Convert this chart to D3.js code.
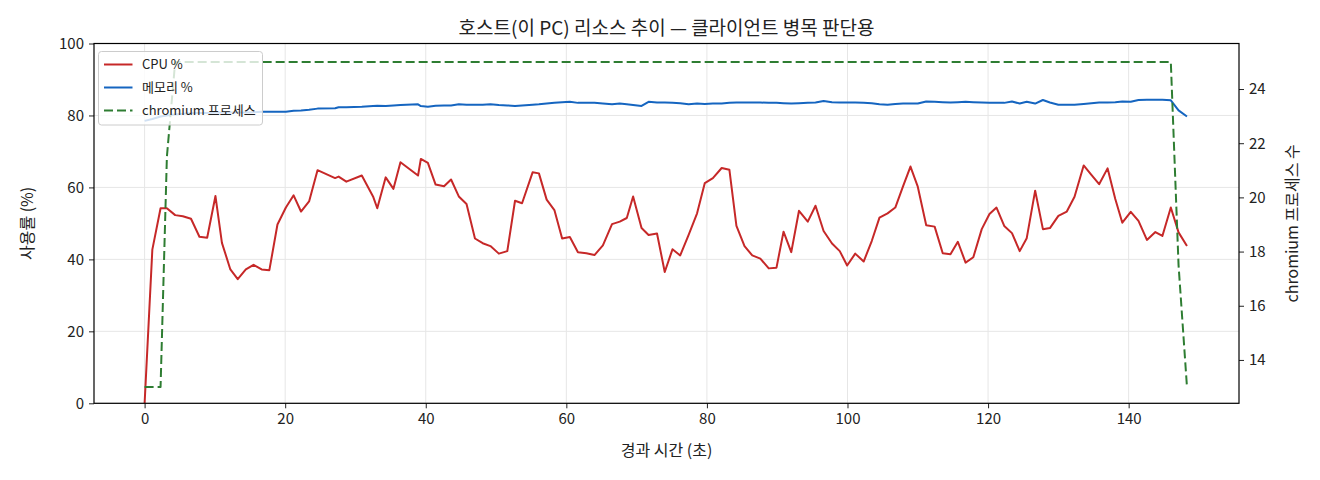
<!DOCTYPE html>
<html>
<head>
<meta charset="utf-8">
<script src="https://cdn.jsdelivr.net/npm/d3@7"></script>
<style>
  body { margin: 0; background: #fff; }
  svg text { font-family: "Noto Sans CJK KR", "Noto Sans", sans-serif; fill: #222; }
</style>
</head>
<body>
<div id="chart"></div>
<script>
// elapsed seconds for each sample
const times = [
  0, 1.1, 2.27, 3.17, 4.35, 5.44, 6.6, 7.8, 8.9, 10.08,
  11.0, 12.2, 13.25, 14.4, 15.5, 16.65, 17.75, 18.9, 20.1, 21.2,
  22.25, 23.4, 24.6, 27.1, 27.6, 28.7, 30.9, 32.5, 33.1, 34.3,
  35.4, 36.4, 38.9, 39.3, 40.3, 41.4, 42.6, 43.6, 44.7, 45.8,
  47.0, 48.1, 49.2, 50.4, 51.6, 52.7, 53.7, 55.2, 56.1, 57.2,
  58.3, 59.4, 60.5, 61.65, 62.85, 64.0, 65.2, 66.5, 67.6, 68.6,
  69.5, 70.7, 71.7, 72.9, 74.0, 75.1, 76.2, 77.4, 78.6, 79.7,
  80.85, 82.1, 83.2, 84.2, 85.35, 86.45, 87.6, 88.8, 89.9, 90.9,
  92.0, 93.1, 94.35, 95.45, 96.6, 97.8, 98.9, 99.95, 101.1, 102.3,
  103.45, 104.55, 105.7, 106.8, 107.9, 108.96, 110.0, 111.2, 112.4, 113.55,
  114.65, 115.7, 116.8, 117.9, 119.1, 120.2, 121.2, 122.3, 123.4, 124.5,
  125.5, 126.7, 127.8, 128.8, 130.0, 131.2, 132.3, 133.6, 134.7, 135.8,
  137.0, 138.1, 139.1, 140.3, 141.4, 142.6, 143.8, 144.8, 146.0, 147.1,
  148.3
]

const cpu = [
  0, 42.7, 54.2, 54.2, 52.3, 52.0, 51.3, 46.3, 46.0, 57.6,
  44.6, 37.2, 34.5, 37.2, 38.5, 37.2, 37.0, 49.7, 54.4, 57.8,
  53.3, 56.1, 64.8, 62.6, 63.0, 61.6, 63.3, 57.5, 54.2, 62.8,
  59.6, 67.0, 63.3, 67.9, 66.8, 60.8, 60.3, 62.2, 57.5, 55.4,
  45.8, 44.5, 43.7, 41.6, 42.3, 56.3, 55.6, 64.2, 63.9, 56.6,
  53.7, 45.8, 46.2, 42.0, 41.7, 41.2, 43.9, 49.8, 50.5, 51.5,
  57.5, 48.7, 46.8, 47.2, 36.5, 42.8, 41.1, 46.8, 52.8, 61.2,
  62.6, 65.4, 64.9, 49.3, 43.7, 41.1, 40.2, 37.5, 37.7, 47.7,
  42.0, 53.5, 50.5, 54.9, 47.9, 44.4, 42.3, 38.3, 41.6, 39.4,
  45.1, 51.6, 52.8, 54.4, 60.3, 65.8, 60.2, 49.5, 49.1, 41.7,
  41.4, 44.9, 39.1, 40.6, 48.4, 52.6, 54.4, 49.3, 47.3, 42.3,
  45.9, 59.1, 48.4, 48.7, 52.1, 53.3, 57.4, 66.1, 63.5, 60.9,
  65.3, 56.8, 50.2, 53.2, 50.7, 45.4, 47.6, 46.5, 54.4, 47.5,
  43.7
]

const memory = [
  78.5, 79.0, 79.7, 80.0, 80.3, 80.5, 80.6, 80.7, 80.7, 80.8,
  80.8, 80.8, 80.8, 80.8, 80.9, 81.0, 81.0, 81.0, 81.0, 81.3,
  81.4, 81.6, 81.9, 82.0, 82.3, 82.3, 82.4, 82.6, 82.7, 82.6,
  82.8, 82.9, 83.1, 82.6, 82.4, 82.7, 82.8, 82.8, 83.1, 83.0,
  83.0, 83.0, 83.1, 82.9, 82.8, 82.65, 82.8, 83.0, 83.1, 83.3,
  83.5, 83.7, 83.8, 83.5, 83.5, 83.5, 83.3, 83.1, 83.3, 83.1,
  82.9, 82.65, 83.8, 83.6, 83.6, 83.5, 83.4, 83.1, 83.3, 83.2,
  83.3, 83.3, 83.5, 83.6, 83.6, 83.6, 83.6, 83.5, 83.5, 83.4,
  83.3, 83.4, 83.5, 83.6, 84.0, 83.7, 83.6, 83.6, 83.6, 83.5,
  83.4, 83.1, 83.0, 83.2, 83.3, 83.3, 83.3, 83.9, 83.8, 83.7,
  83.6, 83.7, 83.8, 83.7, 83.6, 83.5, 83.5, 83.5, 83.9, 83.3,
  83.8, 83.3, 84.3, 83.6, 83.0, 83.0, 83.0, 83.2, 83.4, 83.6,
  83.6, 83.7, 83.9, 83.8, 84.3, 84.4, 84.4, 84.4, 84.2, 81.4,
  79.7
]

const chromium = [
  13, 13, 13, 21.5, 25, 25, 25, 25, 25, 25,
  25, 25, 25, 25, 25, 25, 25, 25, 25, 25,
  25, 25, 25, 25, 25, 25, 25, 25, 25, 25,
  25, 25, 25, 25, 25, 25, 25, 25, 25, 25,
  25, 25, 25, 25, 25, 25, 25, 25, 25, 25,
  25, 25, 25, 25, 25, 25, 25, 25, 25, 25,
  25, 25, 25, 25, 25, 25, 25, 25, 25, 25,
  25, 25, 25, 25, 25, 25, 25, 25, 25, 25,
  25, 25, 25, 25, 25, 25, 25, 25, 25, 25,
  25, 25, 25, 25, 25, 25, 25, 25, 25, 25,
  25, 25, 25, 25, 25, 25, 25, 25, 25, 25,
  25, 25, 25, 25, 25, 25, 25, 25, 25, 25,
  25, 25, 25, 25, 25, 25, 25, 25, 25, 17.5,
  13
]

const xTicks = [0, 20, 40, 60, 80, 100, 120, 140]
const leftTicks = [0, 20, 40, 60, 80, 100]
const rightTicks = [14, 16, 18, 20, 22, 24]

const title = "호스트(이 PC) 리소스 추이 — 클라이언트 병목 판단용"
const seriesInfo = [
  {name: "CPU %", values: cpu, color: "#c62828", dash: null, axis: "left"},
  {name: "메모리 %", values: memory, color: "#1565c0", dash: null, axis: "left"},
  {name: "chromium 프로세스", values: chromium, color: "#2e7d32", dash: "9,4", axis: "right"}
]

// plot box inside the 1320x480 page
const W = 1320, H = 480
const margin = {top: 43.5, right: 81, bottom: 76.7, left: 94}
const width = W - margin.left - margin.right,
  height = H - margin.top - margin.bottom

const svg = d3.select("#chart")
  .append("svg")
    .attr("width", W)
    .attr("height", H)

const g = svg.append("g")
  .attr("transform", `translate(${margin.left}, ${margin.top})`)

const x = d3.scaleLinear().domain([-7.2, 155.7]).range([0, width])
const yL = d3.scaleLinear().domain([0, 100]).range([height, 0])
const yR = d3.scaleLinear().domain([12.4, 25.68]).range([height, 0])

g.append("clipPath").attr("id", "clip")
  .append("rect").attr("width", width).attr("height", height)

// grid
g.append("g").selectAll("line").data(xTicks).join("line")
  .attr("x1", d => x(d)).attr("x2", d => x(d))
  .attr("y1", 0).attr("y2", height)
  .attr("stroke", "#e6e6e6").attr("stroke-width", 1)
g.append("g").selectAll("line").data(leftTicks).join("line")
  .attr("x1", 0).attr("x2", width)
  .attr("y1", d => yL(d)).attr("y2", d => yL(d))
  .attr("stroke", "#e6e6e6").attr("stroke-width", 1)

const plot = g.append("g").attr("clip-path", "url(#clip)")

function drawSeries(s) {
  const yScale = s.axis === "left" ? yL : yR
  const line = d3.line()
    .x((d, i) => x(times[i]))
    .y(d => yScale(d))
  plot.append("path")
    .datum(s.values)
    .attr("fill", "none")
    .attr("stroke", s.color)
    .attr("stroke-width", 2)
    .attr("stroke-dasharray", s.dash)
    .attr("stroke-linejoin", "round")
    .attr("d", line)
}

drawSeries(seriesInfo[0])
drawSeries(seriesInfo[1])

// legend (belongs to the left axes, so the dashed line goes over it)
const legend = g.append("g").attr("transform", "translate(4.5, 8)")
legend.append("rect")
  .attr("width", 164).attr("height", 73.5).attr("rx", 3)
  .attr("fill", "#fff").attr("fill-opacity", 0.8)
  .attr("stroke", "#cccccc").attr("stroke-width", 1)
seriesInfo.forEach((s, i) => {
  const ly = 13 + i * 23
  legend.append("line")
    .attr("x1", 5.5).attr("x2", 34).attr("y1", ly).attr("y2", ly)
    .attr("stroke", s.color).attr("stroke-width", 2)
    .attr("stroke-dasharray", s.dash)
  legend.append("text")
    .attr("x", 43.5).attr("y", ly)
    .attr("dy", "0.35em")
    .style("font-size", "13px")
    .text(s.name)
})

drawSeries(seriesInfo[2])

// axes
function styleAxis(sel) {
  sel.selectAll("text").style("font-size", "15px").attr("fill", "#222")
  sel.selectAll(".tick line").attr("stroke", "#222")
  sel.select(".domain").remove()
}

g.append("g")
  .attr("transform", `translate(0, ${height})`)
  .call(d3.axisBottom(x).tickValues(xTicks).tickSize(5).tickPadding(5))
  .call(styleAxis)

g.append("g")
  .call(d3.axisLeft(yL).tickValues(leftTicks).tickSize(5).tickPadding(5))
  .call(styleAxis)

g.append("g")
  .attr("transform", `translate(${width}, 0)`)
  .call(d3.axisRight(yR).tickValues(rightTicks).tickSize(5).tickPadding(5))
  .call(styleAxis)

// spines
g.append("rect")
  .attr("width", width).attr("height", height)
  .attr("fill", "none").attr("stroke", "#000").attr("stroke-width", 1.2)

// labels
svg.append("text")
  .attr("x", margin.left + width / 2).attr("y", 28)
  .attr("text-anchor", "middle").attr("dy", "0.35em")
  .style("font-size", "19px")
  .text(title)

svg.append("text")
  .attr("x", margin.left + width / 2).attr("y", 450)
  .attr("text-anchor", "middle").attr("dy", "0.35em")
  .style("font-size", "16px")
  .text("경과 시간 (초)")

svg.append("text")
  .attr("transform", `translate(27, ${margin.top + height / 2}) rotate(-90)`)
  .attr("text-anchor", "middle").attr("dy", "0.35em")
  .style("font-size", "16px")
  .text("사용률 (%)")

svg.append("text")
  .attr("transform", `translate(1292, ${margin.top + height / 2}) rotate(-90)`)
  .attr("text-anchor", "middle").attr("dy", "0.35em")
  .style("font-size", "16px")
  .text("chromium 프로세스 수")
</script>
</body>
</html>
